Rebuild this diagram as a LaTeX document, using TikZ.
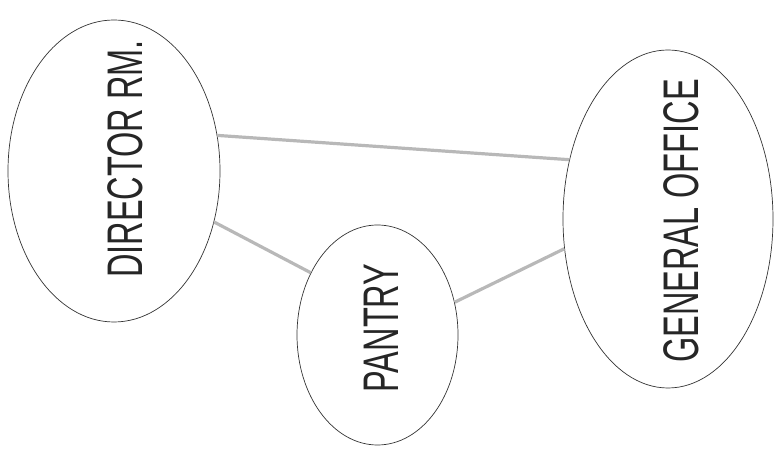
\documentclass[tikz,border=0pt]{standalone}
\usepackage{fontspec}
\usetikzlibrary{shapes.geometric}
\newfontfamily\roomfont[FakeStretch=0.65]{Liberation Sans}
\begin{document}
\begin{tikzpicture}
  [x=1pt,y=1pt,
   room/.style={ellipse,draw=black!80,line width=0.7pt,inner sep=0pt},
   roomtext/.style={rotate=90,inner sep=0pt,text=black!85,font=\roomfont\fontsize{50}{50}\selectfont},
   link/.style={draw=black!28,line width=3.2pt}]
  \useasboundingbox (0,0) rectangle (777,460);

  \node[room,minimum width=212pt,minimum height=302pt] (dir) at (114,289) {};
  \node[room,minimum width=161pt,minimum height=220pt] (pan) at (377.5,125) {};
  \node[room,minimum width=210pt,minimum height=338pt] (gen) at (668,241) {};

  \node[roomtext] (dirt) at (125,301) {DIRECTOR RM.};
  \node[roomtext] (pant) at (381.5,132) {PANTRY};
  \node[roomtext] (gent) at (681.5,239) {GENERAL OFFICE};

  \foreach \from/\to in {dir.19.6/gen.149,dir.-27.7/pan.137.4,pan.23/gen.-164}
    \draw[link] (\from) -- (\to);

\end{tikzpicture}
\end{document}
